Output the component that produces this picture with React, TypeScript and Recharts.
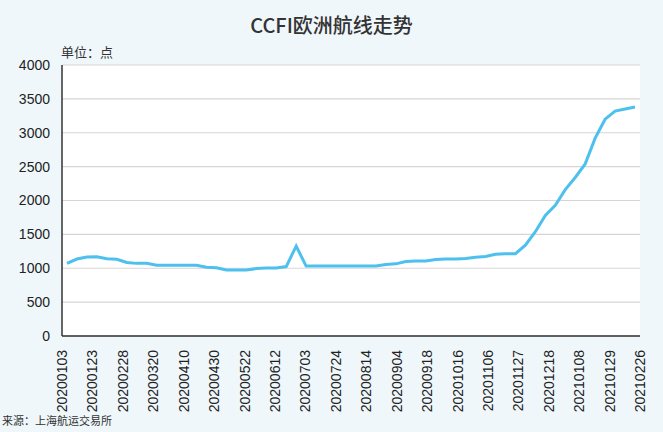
import React from 'react'
import { CartesianGrid, Line, LineChart, XAxis, YAxis } from 'recharts'

// weekly CCFI Europe route index
const dates = [
  '20200103', '20200110', '20200117', '20200123', '20200214', '20200221', '20200228', '20200306',
  '20200313', '20200320', '20200327', '20200403', '20200410', '20200417', '20200424', '20200430',
  '20200508', '20200515', '20200522', '20200529', '20200605', '20200612', '20200619', '20200624',
  '20200703', '20200710', '20200717', '20200724', '20200731', '20200807', '20200814', '20200821',
  '20200828', '20200904', '20200911', '20200915', '20200918', '20200925', '20201009', '20201016',
  '20201023', '20201030', '20201106', '20201113', '20201120', '20201127', '20201204', '20201211',
  '20201218', '20201225', '20201231', '20210108', '20210115', '20210122', '20210129', '20210205',
  '20210219', '20210226',
]

const values = [
  1072, 1136, 1165, 1170, 1140, 1132, 1085, 1072,
  1072, 1045, 1043, 1043, 1043, 1043, 1015, 1006,
  975, 973, 973, 995, 1003, 1003, 1025, 1327,
  1032, 1032, 1032, 1032, 1032, 1032, 1032, 1032,
  1055, 1065, 1100, 1106, 1106, 1130, 1136, 1136,
  1145, 1163, 1175, 1205, 1215, 1215, 1340, 1540,
  1780, 1930, 2160, 2340, 2540, 2920, 3200, 3320,
  3350, 3380,
]

const tickLabels = [
  '20200103', '20200123', '20200228', '20200320', '20200410', '20200430', '20200522',
  '20200612', '20200703', '20200724', '20200814', '20200904', '20200918', '20201016',
  '20201106', '20201127', '20201218', '20210108', '20210129', '20210226',
]

const yTicks = [0, 500, 1000, 1500, 2000, 2500, 3000, 3500, 4000]

const data = values.map((v, i) => ({ idx: i, date: dates[i], value: v }))

// the labels are spread evenly over the whole plot width, not on the points
const xMin = -0.5
const xMax = values.length - 0.5
const xTicks = tickLabels.map((_, k) => xMin + (k * (xMax - xMin)) / (tickLabels.length - 1))

const FONT = '"Liberation Sans", Arial, "Noto Sans CJK SC", sans-serif'
const CJK = '"Noto Sans CJK SC", "Liberation Sans", sans-serif'

if (typeof document !== 'undefined') document.body.style.margin = '0'

function DateTick(props: any) {
  const { x, y, index } = props
  return (
    <text
      transform={`translate(${x},${y + 6}) rotate(-90)`}
      textAnchor="end"
      dy="0.36em"
      fontSize={14}
      fill="#222"
      fontFamily={FONT}
    >
      {tickLabels[index]}
    </text>
  )
}

export default function App() {
  return (
    <div style={{ position: 'relative', width: 663, height: 432, background: '#eff7fb', overflow: 'hidden' }}>
      <div
        style={{
          position: 'absolute', left: 0, width: 663, top: 12, textAlign: 'center',
          fontFamily: CJK, fontSize: 20, fontWeight: 500, color: '#333', lineHeight: '26px',
        }}
      >
        CCFI欧洲航线走势
      </div>
      <div style={{ position: 'absolute', left: 61, top: 43, fontFamily: CJK, fontSize: 13, color: '#333', lineHeight: '18px' }}>
        单位：点
      </div>
      <LineChart width={663} height={432} data={data} margin={{ top: 65, right: 23, bottom: 0, left: 0 }}>
        <CartesianGrid fill="#ffffff" stroke="#d9d4d4" strokeWidth={1.2} vertical={false} />
        <XAxis
          dataKey="idx"
          type="number"
          domain={[xMin, xMax]}
          ticks={xTicks}
          interval={0}
          tick={<DateTick />}
          tickLine={false}
          axisLine={{ stroke: '#333', strokeWidth: 1.5 }}
          height={96}
        />
        <YAxis
          domain={[0, 4000]}
          ticks={yTicks}
          interval={0}
          width={62}
          tickLine={false}
          tickSize={0}
          tickMargin={12}
          axisLine={{ stroke: '#333', strokeWidth: 1.5 }}
          tick={{ fontSize: 14, fill: '#222', fontFamily: FONT }}
        />
        <Line
          type="linear"
          dataKey="value"
          stroke="#4dc0ee"
          strokeWidth={3}
          dot={false}
          isAnimationActive={false}
        />
      </LineChart>
      <div style={{ position: 'absolute', left: 2, top: 412, fontFamily: CJK, fontSize: 11, color: '#333', lineHeight: '16px' }}>
        来源：上海航运交易所
      </div>
    </div>
  )
}
